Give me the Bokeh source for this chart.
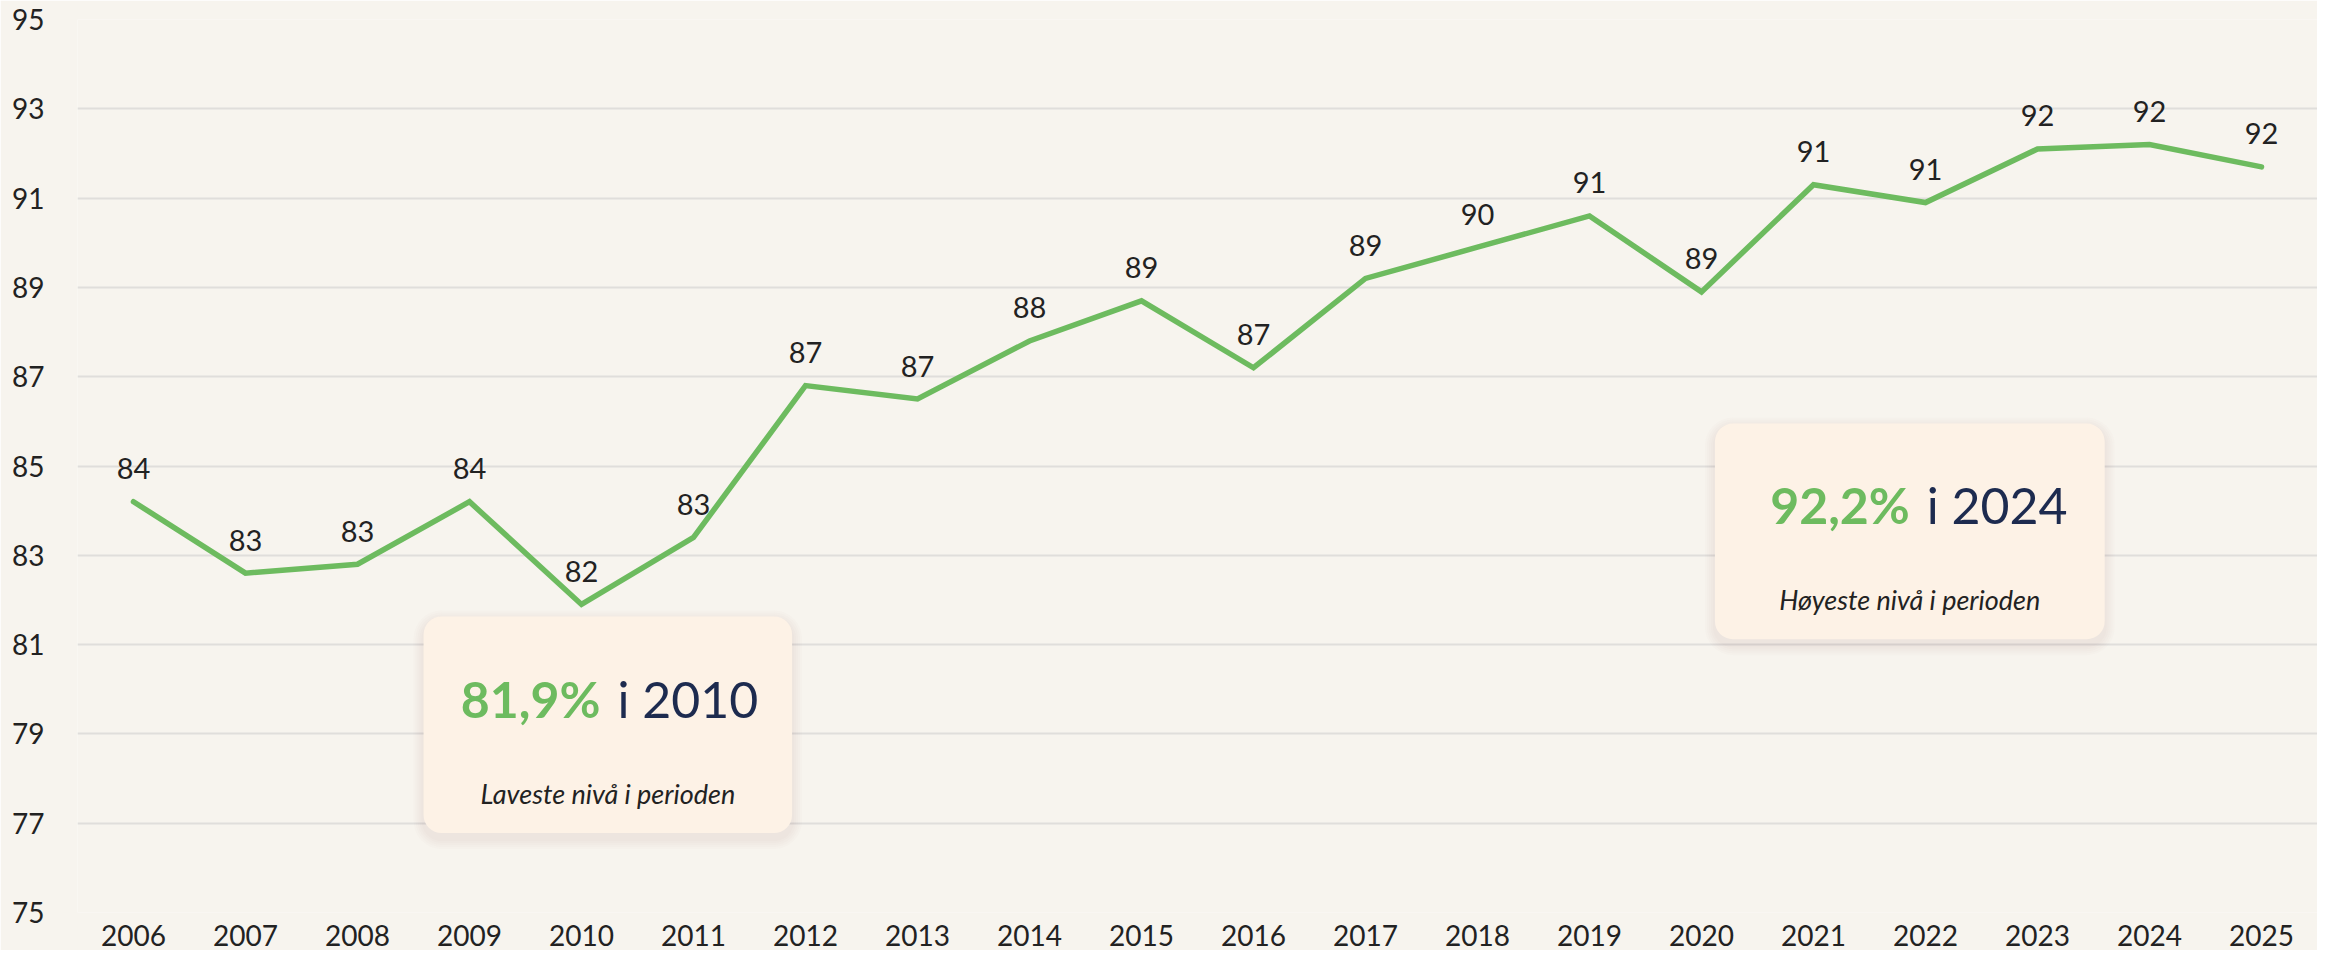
from bokeh.plotting import figure
from bokeh.models import FixedTicker, Range1d, BoxAnnotation, Label, ColumnDataSource
from bokeh.core.properties import value
from bokeh.embed import file_html
from bokeh.resources import INLINE
import math

# ---- data ----
years = list(range(2006, 2026))
share = [84.2, 82.6, 82.8, 84.2, 81.9, 83.4, 86.8, 86.5, 87.8, 88.7,
         87.2, 89.2, 89.9, 90.6, 88.9, 91.3, 90.9, 92.1, 92.2, 91.7]
point_labels = [str(int(math.floor(v + 0.5))) for v in share]
y_ticks = list(range(75, 96, 2))

low_value, low_year = "81,9%", "i 2010"
high_value, high_year = "92,2%", "i 2024"
low_text = "Laveste nivå i perioden"
high_text = "Høyeste nivå i perioden"

# ---- styles ----
BG = "#f7f4ee"
GREEN = "#6dbb5f"
NAVY = "#1d2b4f"
TXT = "#222222"
BOXFILL = "#fdf2e6"
FONT = "Lato"

p = figure(width=2317, height=950, output_backend="svg", toolbar_location=None,
           x_range=Range1d(2005.5, 2025.5), y_range=Range1d(75, 95),
           min_border_left=77, min_border_top=19, min_border_right=0, min_border_bottom=38)
p.background_fill_color = BG
p.border_fill_color = BG
p.outline_line_color = None

p.xgrid.grid_line_color = None
p.ygrid.grid_line_color = "#e0dedb"
p.ygrid.grid_line_width = 2
p.ygrid.ticker = FixedTicker(ticks=y_ticks)

for ax in (p.xaxis[0], p.yaxis[0]):
    ax.axis_line_color = None
    ax.major_tick_line_color = None
    ax.minor_tick_line_color = None
    ax.major_label_text_font = FONT
    ax.major_label_text_font_size = "28px"
    ax.major_label_text_color = TXT
p.xaxis.ticker = FixedTicker(ticks=years)
p.xaxis.major_label_standoff = 6
p.yaxis.ticker = FixedTicker(ticks=y_ticks)
p.yaxis.major_label_standoff = 27

src = ColumnDataSource(dict(x=years, y=share, lab=point_labels))
p.line("x", "y", source=src, line_color=GREEN, line_width=5.5,
       line_cap="round", line_join="miter")
p.text("x", "y", text="lab", source=src, text_font=value(FONT),
       text_font_size="29px", text_color=TXT, text_align="center",
       text_baseline="alphabetic", y_offset=-33)

# ---- callout boxes ----
PX_X = 20 / 2240.0   # data units per pixel (x)
PX_Y = 20 / 893.0    # data units per pixel (y)

def callout(left, right, top, bottom, big, small, split_x, base_y, sub_y, sub):
    for k in range(5, 0, -1):
        g = 2 * k
        p.add_layout(BoxAnnotation(left=left - g * PX_X, right=right + g * PX_X,
                                   top=top - (4 - g) * PX_Y, bottom=bottom - (6 + g) * PX_Y,
                                   fill_color="#8a7f70", fill_alpha=0.018,
                                   line_alpha=0, border_radius=18 + g))
    p.add_layout(BoxAnnotation(left=left, right=right, top=top, bottom=bottom,
                               fill_color=BOXFILL, fill_alpha=1, line_alpha=0,
                               border_radius=18))
    p.add_layout(Label(x=split_x, y=base_y, text=big, text_font=FONT,
                       text_font_style="bold", text_font_size="50px",
                       text_color=GREEN, text_align="right", text_baseline="alphabetic"))
    p.add_layout(Label(x=split_x, y=base_y, text=small, text_font=FONT,
                       text_font_size="50px", text_color=NAVY,
                       text_align="left", text_baseline="alphabetic", x_offset=17))
    p.add_layout(Label(x=(left + right) / 2, y=sub_y, text=sub, text_font=FONT,
                       text_font_style="italic", text_font_size="27px",
                       text_color=TXT, text_align="center", text_baseline="alphabetic"))

callout(2008.59, 2011.88, 81.63, 76.78, low_value, low_year, 2010.17, 79.78, 77.67, low_text)
callout(2020.12, 2023.60, 85.95, 81.12, high_value, high_year, 2021.86, 84.12, 82.01, high_text)

open("out.html", "w").write(file_html(p, INLINE))
